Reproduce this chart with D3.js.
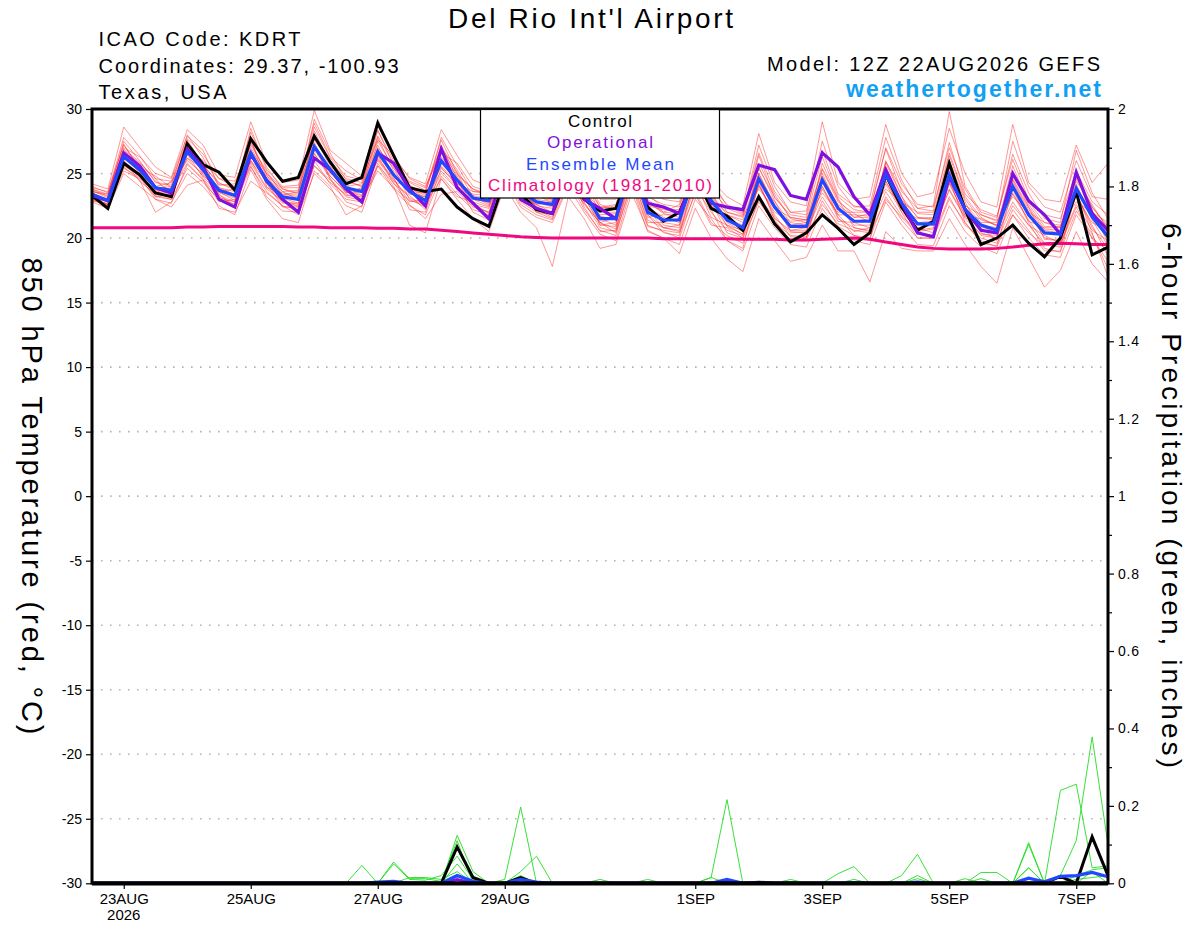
<!DOCTYPE html>
<html>
<head>
<meta charset="utf-8">
<script src="https://cdn.jsdelivr.net/npm/d3@7"></script>
<style>
  body { margin: 0; background: #fff; }
  svg { display: block; font-family: "Liberation Sans", Arial, Helvetica, sans-serif; }
</style>
</head>
<body>
<script>
// ---- data (6-hourly, 12Z 22AUG2026 -> 12Z 07SEP2026) ----
const control = [23.3,22.3,25.8,24.9, 23.5,23.2,27.3,25.7, 25.1,23.7,27.7,25.9, 24.4,24.7,27.9,25.9,
  24.2,24.7,28.9,26.4, 23.9,23.6,23.8,22.4, 21.5,20.9,24.5,23.4, 22.2,21.9,25.0,23.0,
  22.1,22.3,25.5,22.4, 21.3,22.0,24.8,22.3, 21.7,20.6,23.2,21.1, 19.7,20.4,21.8,20.75,
  19.5,20.4,24.9,22.4, 20.6,21.3,25.8,22.2, 19.5,20.0,21.0,19.6, 18.55,20.0,23.6,18.7, 19.3];

const operational = [23.3,22.9,26.6,25.6, 23.9,23.5,26.9,25.5, 23.0,22.4,26.5,24.5, 23.0,22.0,26.2,25.3,
  23.8,22.8,26.6,25.8, 23.8,22.5,26.9,23.9, 22.7,21.5,25.5,23.0, 22.3,21.9,25.5,23.0,
  22.3,21.5,25.5,22.7, 22.4,21.9,25.0,22.7, 22.4,22.2,25.65,25.3, 23.3,23.0,26.6,25.5,
  23.2,21.8,25.3,22.7, 20.4,20.1,24.75,22.2, 20.6,20.4,25.0,22.9, 21.8,20.3,25.1,21.9, 20.6];

const ensMean = [23.4,22.9,26.3,25.3, 23.9,23.7,26.7,25.3, 23.7,23.3,26.6,24.4, 23.2,23.0,27.1,25.3,
  23.9,23.6,26.7,24.9, 23.6,22.9,26.0,24.5, 23.1,22.9,25.8,23.6, 22.8,22.6,25.5,23.5,
  21.5,21.5,25.8,22.0, 21.4,21.4,25.0,22.9, 21.4,20.8,24.6,22.4, 20.9,20.9,24.5,22.3,
  21.3,21.3,24.9,22.7, 21.1,21.1,24.9,22.2, 21.0,20.6,24.0,21.8, 20.4,20.3,23.85,21.65, 20.1];

const climatology = [20.8,20.8,20.8,20.8,20.8,20.8,20.85,20.85,20.9,20.9,
  20.9,20.9,20.9,20.85,20.85,20.8,20.8,20.8,20.75,20.75,
  20.7,20.7,20.6,20.5,20.4,20.3,20.2,20.1,20.05,20.0,
  20.0,20.0,20.0,20.0,20.0,20.0,19.95,19.95,19.95,19.95,
  19.95,19.9,19.9,19.9,19.85,19.85,19.9,19.95,20.0,19.9,
  19.7,19.5,19.3,19.2,19.15,19.15,19.15,19.2,19.3,19.45,
  19.55,19.6,19.55,19.5,19.5];

const members = [
  [23.8,23.2,27.5,26.0, 24.3,24.1,28.0,26.2, 24.2,23.9,28.2,25.5, 23.8,23.5,29.2,26.6, 24.5,24.0,28.3,26.0, 24.1,23.4,27.8,25.6, 23.6,23.5,27.5,24.8, 23.3,23.0,27.0,24.6, 22.4,22.3,27.5,23.4, 22.3,22.0,27.0,24.5, 22.5,21.9,27.2,24.0, 22.0,21.8,27.5,24.0, 22.4,22.5,27.8,24.5, 22.3,22.5,29.8,24.0, 22.0,21.6,26.5,23.5, 21.5,21.2,26.8,23.5, 21.5],
  [23.0,22.6,25.2,24.6, 23.2,23.0,25.4,24.3, 23.0,22.6,25.5,23.6, 22.5,22.2,26.0,24.2, 23.0,22.8,25.6,23.8, 22.5,21.8,24.8,23.4, 22.2,21.8,24.5,22.4, 21.6,21.2,24.0,22.0, 20.3,19.8,24.0,20.5, 20.0,19.5,23.0,21.5, 19.8,19.0,22.5,20.8, 19.5,19.3,22.3,20.6, 19.8,19.5,22.8,21.0, 19.5,19.4,22.5,20.5, 19.3,18.8,21.8,20.0, 18.7,18.5,21.8,20.0, 18.2],
  [23.6,23.4,26.8,25.8, 24.6,23.2,27.2,25.9, 23.3,22.8,27.4,24.9, 22.9,22.6,28.3,25.8, 24.2,23.0,27.5,25.5, 23.0,22.4,26.8,25.1, 22.6,22.3,26.6,24.0, 22.4,21.9,26.2,24.2, 21.0,21.2,26.4,22.6, 21.0,20.8,25.8,23.2, 20.9,20.3,25.5,22.9, 20.5,20.4,25.8,23.0, 20.8,20.6,26.0,23.3, 20.5,20.7,26.0,22.8, 20.4,20.0,25.2,22.4, 19.9,19.8,24.8,22.2, 19.6],
  [23.1,22.5,26.0,24.9, 23.6,23.9,26.2,24.8, 23.9,23.6,26.0,23.9, 23.5,23.3,26.5,24.8, 23.5,23.9,26.0,24.4, 23.9,23.3,25.5,24.0, 23.4,23.3,25.2,23.0, 23.2,22.9,25.0,23.0, 21.8,21.9,25.2,21.6, 21.8,21.8,24.5,22.4, 21.8,21.2,24.0,22.0, 21.3,21.4,24.0,21.8, 21.8,21.7,24.4,22.2, 21.5,21.6,24.3,21.7, 21.5,21.0,23.4,21.3, 20.8,20.8,23.2,21.2, 20.5],
  [23.3,23.0,25.5,24.5, 22.0,22.8,25.0,24.0, 22.5,21.8,25.3,23.0, 21.5,21.2,25.2,24.0, 21.8,22.5,25.8,24.0, 21.0,20.4,24.6,23.0, 21.5,20.5,24.0,22.0, 20.8,17.8,23.2,21.5, 19.2,19.5,23.5,20.6, 20.0,18.8,22.3,20.0, 18.4,17.4,21.5,19.8, 18.2,18.5,21.0,19.0, 19.0,16.6,20.5,19.2, 19.0,19.0,21.5,19.5, 17.8,16.5,20.8,18.5, 16.2,17.5,20.5,18.0, 16.6],
  [24.2,23.8,28.6,27.0, 25.5,24.7,28.4,27.2, 24.9,24.7,29.0,25.8, 24.3,24.5,29.9,26.8, 25.8,24.8,29.2,26.2, 24.7,24.2,28.4,26.4, 24.5,24.0,27.8,25.2, 23.8,23.4,27.5,25.0, 23.0,23.0,27.8,23.8, 23.0,22.8,26.8,24.5, 23.2,22.5,28.1,24.3, 22.8,22.5,29.0,24.3, 23.0,23.2,28.8,25.0, 23.2,23.5,28.5,25.0, 22.8,22.4,28.8,24.3, 23.0,22.8,27.2,24.3, 25.8],
  [22.8,22.3,25.0,24.0, 23.0,22.4,24.1,24.5, 22.3,22.0,24.4,23.5, 22.5,21.8,25.0,23.8, 22.5,22.0,25.6,24.3, 22.6,21.5,23.4,23.6, 22.4,22.0,24.6,23.4, 22.0,21.8,24.5,22.8, 20.8,20.5,24.8,21.4, 20.8,20.5,24.0,22.0, 20.6,20.2,24.2,21.6, 20.4,20.5,23.8,21.8, 20.5,20.8,24.2,22.0, 20.8,20.4,23.8,21.6, 20.8,19.8,22.5,21.0, 19.5,19.3,23.4,20.8, 19.2],
  [23.5,23.0,26.5,25.0, 24.0,24.3,27.0,25.6, 24.3,23.7,27.0,24.8, 23.8,23.4,27.6,25.9, 24.0,23.3,27.0,25.4, 24.0,23.0,26.3,24.8, 23.0,22.8,26.0,23.8, 22.8,22.4,25.6,23.4, 21.4,21.6,25.9,22.4, 21.6,21.2,25.2,23.3, 21.5,21.0,24.6,22.8, 21.2,21.0,24.6,22.6, 21.6,21.9,25.4,22.9, 21.2,21.3,25.2,22.6, 21.2,21.2,24.5,22.2, 20.6,20.4,24.0,21.9, 20.3],
  [23.9,23.6,27.2,25.5, 24.8,23.9,27.4,24.9, 23.6,22.9,26.6,24.2, 22.8,22.5,27.0,24.8, 23.6,23.3,26.4,24.2, 23.3,22.2,25.8,24.4, 22.7,21.9,26.4,23.5, 22.5,22.3,25.8,23.9, 21.5,21.0,26.6,21.8, 20.8,21.0,25.5,22.6, 21.0,20.6,25.0,22.4, 20.6,20.8,25.0,22.4, 21.0,21.0,25.5,22.6, 20.8,21.0,25.6,22.4, 20.9,20.4,24.4,22.0, 20.0,19.8,24.2,21.4, 19.4],
  [22.9,22.7,25.8,25.0, 23.2,23.4,26.2,25.4, 23.8,23.3,26.0,24.6, 23.4,23.2,26.8,25.2, 23.5,23.6,26.4,25.0, 23.6,23.5,25.6,24.2, 23.6,23.5,25.4,23.8, 23.4,23.0,25.0,23.6, 22.3,22.5,25.0,22.5, 22.2,22.2,24.6,23.0, 22.0,21.7,23.8,22.3, 21.6,21.4,23.5,22.0, 22.0,22.0,23.8,22.8, 22.0,22.0,24.3,22.5, 21.8,21.3,23.2,22.0, 21.2,21.0,22.8,22.0, 21.2],
  [23.7,23.1,26.4,25.3, 24.0,23.2,26.9,25.8, 23.2,22.6,26.3,24.6, 23.6,23.0,27.4,25.0, 24.4,24.0,26.9,25.0, 23.4,23.2,26.1,24.3, 23.0,22.5,25.6,23.2, 22.6,22.8,25.4,23.2, 21.0,20.9,25.4,22.2, 20.8,20.6,24.4,22.8, 20.4,20.0,24.1,21.8, 20.1,20.0,24.0,21.5, 20.8,20.5,24.4,22.3, 20.3,20.2,24.2,21.8, 20.2,20.0,23.5,21.4, 19.6,19.7,23.4,21.0, 18.6],
  [23.2,22.8,26.1,25.6, 23.7,23.5,26.5,24.7, 23.5,23.1,27.8,24.0, 22.7,22.7,26.2,25.5, 23.7,23.8,27.8,25.2, 23.8,23.6,27.2,24.6, 23.3,23.0,26.8,24.2, 22.9,22.5,26.0,23.8, 21.7,21.4,26.2,22.0, 21.3,21.5,25.2,23.4, 21.8,21.4,25.0,22.6, 21.0,21.2,24.8,22.5, 21.3,21.5,25.0,23.0, 21.6,21.5,25.4,22.4, 21.0,20.8,24.6,22.4, 20.7,20.6,24.4,22.6, 20.6],
  [23.4,22.4,26.0,24.4, 23.4,24.4,26.0,25.0, 23.6,23.8,25.9,24.4, 23.1,22.7,26.6,24.6, 23.2,22.9,26.2,24.6, 22.8,23.0,25.2,23.9, 23.2,22.6,25.0,22.9, 22.2,22.0,24.8,22.6, 21.2,20.7,25.0,21.2, 21.2,21.0,24.3,21.6, 21.0,20.3,23.3,21.5, 20.6,20.6,23.2,21.3, 21.2,20.8,23.6,21.7, 20.6,20.8,23.7,21.5, 20.3,20.2,22.8,21.0, 20.2,19.6,22.6,20.6, 19.8],
  [24.0,23.5,27.8,26.4, 24.6,24.4,27.6,25.7, 24.1,24.2,27.5,25.0, 23.9,23.9,28.6,26.2, 24.8,24.5,28.4,25.6, 24.3,23.7,27.6,25.0, 23.8,23.4,26.9,24.5, 23.6,23.3,26.7,24.3, 22.4,22.6,27.0,23.2, 22.6,22.4,26.6,24.0, 22.6,22.0,26.6,23.6, 22.0,22.1,26.8,23.4, 22.5,22.2,26.9,23.6, 22.3,22.1,27.4,23.4, 22.2,21.7,26.1,23.0, 21.8,21.5,25.2,22.8, 21.8],
  [23.5,22.9,26.9,25.9, 24.4,23.6,27.7,26.5, 24.6,24.0,27.2,25.2, 23.3,23.6,28.0,26.0, 24.6,24.3,27.9,25.8, 24.4,23.9,27.0,25.3, 23.2,22.7,26.3,24.0, 22.2,21.6,25.2,23.1, 21.2,21.6,26.0,22.8, 21.9,21.6,25.9,23.6, 21.2,20.5,25.8,23.4, 21.5,21.2,25.3,22.8, 21.9,21.2,25.9,23.8, 21.9,21.8,26.6,23.2, 21.6,20.9,25.6,22.6, 20.9,20.9,25.0,22.4, 20.9],
  [22.9,22.6,25.6,24.8, 23.0,22.7,25.7,24.5, 22.8,23.0,25.6,23.2, 22.1,22.0,25.6,24.5, 23.3,23.2,26.1,24.5, 23.1,22.6,25.0,23.8, 22.5,22.0,25.3,22.8, 22.0,21.5,24.6,22.2, 20.6,20.2,24.5,21.0, 20.5,20.0,23.6,21.2, 20.2,19.6,23.0,21.0, 19.9,19.8,22.9,20.9, 20.2,20.0,23.2,21.4, 20.0,20.0,23.0,21.2, 19.8,19.3,22.2,20.6, 19.0,19.0,22.1,20.3, 17.6],
  [23.6,23.3,27.0,26.3, 25.0,24.6,27.9,26.8, 23.9,23.4,28.5,25.3, 24.0,24.1,28.9,26.3, 25.2,24.5,27.6,26.4, 24.6,24.0,26.6,25.8, 24.0,23.6,27.2,25.0, 23.5,22.6,26.5,24.8, 22.6,22.2,27.2,23.0, 22.0,22.6,26.2,24.2, 22.0,21.6,26.4,23.1, 21.8,21.6,26.3,23.2, 22.2,22.0,27.0,24.2, 22.6,22.4,27.0,23.8, 21.8,21.4,27.5,24.0, 22.4,22.0,26.0,23.2, 23.0],
  [23.2,22.6,26.2,25.1, 23.3,23.0,26.6,25.1, 23.4,22.4,26.8,24.3, 22.4,22.4,27.2,24.6, 22.8,22.4,26.5,24.7, 22.2,22.0,25.4,24.2, 22.0,21.4,25.6,23.4, 22.6,22.0,25.3,22.4, 20.5,20.6,25.3,21.8, 20.4,20.2,24.8,22.2, 19.8,19.2,24.4,21.4, 19.8,20.0,24.6,21.6, 20.2,19.8,24.8,22.0, 20.0,20.0,24.6,21.2, 19.6,19.4,23.8,21.2, 19.2,18.9,23.6,20.4, 17.0],
  [23.8,23.4,27.3,25.2, 23.8,24.0,26.8,26.0, 24.6,24.4,26.8,25.0, 23.6,23.7,27.8,25.6, 24.0,24.2,27.2,24.8, 23.6,23.2,26.6,24.9, 23.8,23.2,26.2,24.6, 23.0,22.8,26.4,24.4, 22.0,22.0,26.8,22.8, 22.0,21.9,25.6,23.8, 22.3,21.8,25.4,23.2, 21.6,21.4,25.4,23.0, 21.6,21.6,25.8,23.2, 21.6,21.4,26.4,23.0, 21.4,21.0,24.8,22.8, 21.2,20.8,24.6,22.4, 20.8],
  [23.0,22.9,25.4,24.7, 23.5,23.6,25.8,24.6, 23.1,22.8,25.8,23.8, 22.9,22.4,25.6,24.3, 23.4,23.0,25.2,23.9, 22.9,22.6,24.6,23.2, 22.8,22.4,24.8,22.6, 21.8,21.4,24.2,22.7, 21.2,20.4,24.2,20.9, 20.6,20.4,23.4,21.0, 20.8,20.0,22.8,21.2, 20.2,20.1,22.6,21.1, 20.6,20.4,23.0,21.6, 20.4,20.2,23.2,21.0, 20.0,19.6,21.8,20.4, 19.4,19.5,22.4,20.0, 19.0]
];

// 6-hour precipitation (inches)
const precipControl = [0,0,0,0,0, 0,0,0,0,0, 0,0,0,0,0, 0,0,0,0,0, 0,0,0,0.094,0.015, 0,0,0.015,0,0, 0,0,0,0,0, 0,0,0,0,0, 0,0,0.003,0,0, 0,0,0,0,0, 0,0,0,0,0, 0,0,0,0,0, 0,0.018,0,0.12,0.02];
const precipOperational = [0,0,0,0,0, 0,0,0,0,0, 0,0,0,0,0, 0,0,0,0,0, 0,0,0,0.01,0, 0,0,0,0,0, 0,0,0,0,0, 0,0,0,0,0, 0.005,0,0,0,0, 0,0,0,0,0, 0,0,0,0,0, 0,0,0,0,0, 0,0,0,0,0];
const precipMean = [0,0,0,0,0, 0,0,0,0,0, 0,0,0,0,0, 0,0,0,0.003,0.005, 0,0,0,0.02,0.005, 0,0,0.01,0.003,0, 0,0,0,0,0, 0,0,0,0,0, 0.01,0,0,0,0, 0,0,0,0.002,0, 0,0,0.003,0,0, 0,0,0,0,0.013, 0.004,0.018,0.02,0.028,0.017];
const precipMembers = [
  [0,0,0,0,0, 0,0,0,0,0, 0,0,0,0,0, 0,0,0.046,0,0, 0,0,0,0.124,0.03, 0,0.01,0.197,0,0, 0,0,0,0,0, 0,0,0,0,0, 0,0,0,0,0, 0,0,0,0,0, 0,0,0,0,0, 0,0,0,0,0, 0,0,0,0,0],
  [0,0,0,0,0, 0,0,0,0,0, 0,0,0,0,0, 0,0,0,0,0.055, 0.012,0.012,0.005,0.11,0, 0,0,0.03,0.07,0, 0,0,0,0,0, 0,0,0,0,0, 0,0,0,0,0, 0,0,0,0,0, 0,0,0,0,0, 0,0,0,0,0, 0,0,0,0,0],
  [0,0,0,0,0, 0,0,0,0,0, 0,0,0,0,0, 0,0,0,0,0.05, 0.01,0.008,0.02,0.07,0.01, 0,0,0,0,0, 0,0,0,0,0, 0,0,0,0,0.015, 0.216,0,0,0,0, 0,0,0,0,0, 0,0,0,0,0, 0,0,0,0,0, 0,0,0,0,0],
  [0,0,0,0,0, 0,0,0,0,0, 0,0,0,0,0, 0,0,0,0,0, 0,0,0,0.05,0, 0,0,0.02,0,0, 0,0,0.01,0,0, 0,0,0,0,0, 0,0,0,0,0, 0,0,0.025,0.043,0, 0,0,0.02,0,0, 0,0,0,0,0.04, 0,0,0,0.03,0],
  [0,0,0,0,0, 0,0,0,0,0, 0,0,0,0,0, 0,0,0,0,0, 0,0,0,0,0, 0,0,0,0,0, 0,0,0,0,0, 0,0,0,0,0, 0,0,0,0,0.01, 0,0,0,0,0, 0,0.02,0.075,0,0, 0,0,0,0,0.105, 0,0.24,0.256,0.04,0.045],
  [0,0,0,0,0, 0,0,0,0,0, 0,0,0,0,0, 0,0,0,0,0, 0,0,0,0,0, 0,0,0,0,0, 0,0,0,0,0, 0.01,0,0,0,0, 0,0,0,0,0, 0,0,0,0,0, 0,0,0,0,0, 0,0.028,0.028,0,0.1, 0,0.02,0.11,0.378,0.1],
  [0,0,0,0,0, 0,0,0,0,0, 0,0,0,0,0, 0,0,0,0,0, 0,0,0,0,0, 0,0,0,0,0, 0,0,0,0,0, 0,0,0,0,0.015, 0,0,0,0,0.005, 0,0,0,0.01,0, 0,0,0.012,0,0, 0,0.012,0,0,0.04, 0,0,0.02,0.035,0.04],
  [0,0,0,0,0, 0,0,0,0,0, 0,0,0,0,0, 0,0,0,0,0, 0.015,0.015,0.01,0.03,0, 0,0,0.015,0,0, 0,0,0,0,0, 0,0,0,0,0, 0,0,0,0,0, 0,0,0,0,0, 0,0,0,0,0, 0.012,0,0,0,0, 0,0,0.01,0.015,0.02]
];

const tempTicks = [-30,-25,-20,-15,-10,-5,0,5,10,15,20,25,30];
const precipTicks = [0,0.2,0.4,0.6,0.8,1,1.2,1.4,1.6,1.8,2];
const precipMinorTicks = [0.1,0.3,0.5,0.7,0.9,1.1,1.3,1.5,1.7,1.9];
const dateLabels = ["23AUG","25AUG","27AUG","29AUG","1SEP","3SEP","5SEP","7SEP"];
const labelDates = [[2026,7,23],[2026,7,25],[2026,7,27],[2026,7,29],[2026,8,1],[2026,8,3],[2026,8,5],[2026,8,7]]
  .map(d => new Date(Date.UTC(d[0], d[1], d[2])));

// ---- layout ----
const width = 1200;
const height = 927;
const margin = { top: 109, right: 92, bottom: 44, left: 92 };
const start = Date.UTC(2026, 7, 22, 12);
const times = d3.range(control.length).map(i => new Date(start + i * 6 * 3600 * 1000));

const svg = d3.select("body").append("svg")
  .attr("width", width)
  .attr("height", height);

const x = d3.scaleUtc()
  .domain([times[0], times[times.length - 1]])
  .range([margin.left, width - margin.right]);
const yT = d3.scaleLinear().domain([-30, 30]).range([height - margin.bottom + 0.3, margin.top]);
const yP = d3.scaleLinear().domain([0, 2]).range([height - margin.bottom + 0.3, margin.top]);

// dotted grid
svg.append("g").selectAll("line")
  .data(tempTicks.filter(d => d > -30 && d < 30))
  .join("line")
  .attr("x1", margin.left).attr("x2", width - margin.right)
  .attr("y1", d => yT(d)).attr("y2", d => yT(d))
  .attr("stroke", "#b4b4b4")
  .attr("stroke-width", 1.6)
  .attr("stroke-dasharray", "1.6,7.4");

const lineT = d3.line().x((d, i) => x(times[i])).y(d => yT(d));
const lineP = d3.line().x((d, i) => x(times[i])).y(d => yP(d));

const plot = svg.append("g");

// ensemble members (temperature)
plot.append("g").selectAll("path")
  .data(members)
  .join("path")
  .attr("d", lineT)
  .attr("fill", "none")
  .attr("stroke", "#ff2020")
  .attr("stroke-opacity", 0.55)
  .attr("stroke-width", 0.85);

// ensemble members (precip)
plot.append("g").selectAll("path")
  .data(precipMembers)
  .join("path")
  .attr("d", lineP)
  .attr("fill", "none")
  .attr("stroke", "#22dd22")
  .attr("stroke-width", 0.9);

const mainLines = [
  { data: climatology, line: lineT, color: "#f0087e", w: 3 },
  { data: control, line: lineT, color: "#000000", w: 3 },
  { data: operational, line: lineT, color: "#8010e0", w: 3.2 },
  { data: ensMean, line: lineT, color: "#2248ff", w: 3.2 },
  { data: precipControl, line: lineP, color: "#000000", w: 3 },
  { data: precipOperational, line: lineP, color: "#8010e0", w: 3 },
  { data: precipMean, line: lineP, color: "#2248ff", w: 3.2 }
];
plot.append("g").selectAll("path")
  .data(mainLines)
  .join("path")
  .attr("d", d => d.line(d.data))
  .attr("fill", "none")
  .attr("stroke", d => d.color)
  .attr("stroke-width", d => d.w)
  .attr("stroke-linejoin", "miter");

// axes
const leftAxis = svg.append("g")
  .attr("transform", `translate(${margin.left},0)`)
  .call(d3.axisLeft(yT).tickValues(tempTicks).tickSize(6).tickPadding(4).tickFormat(d => String(d)));
const rightAxis = svg.append("g")
  .attr("transform", `translate(${width - margin.right},0)`)
  .call(d3.axisRight(yP).tickValues(precipTicks).tickSize(6).tickPadding(4).tickFormat(d => String(d)));
const rightMinor = svg.append("g")
  .attr("transform", `translate(${width - margin.right},0)`)
  .call(d3.axisRight(yP).tickValues(precipMinorTicks).tickSize(4).tickFormat(""));
const bottomAxis = svg.append("g")
  .attr("transform", `translate(0,${height - margin.bottom})`)
  .call(d3.axisBottom(x).tickValues(labelDates).tickSize(6).tickPadding(4).tickFormat((d, i) => dateLabels[i]));

[leftAxis, rightAxis, rightMinor, bottomAxis].forEach(g => {
  g.select(".domain").remove();
  g.selectAll(".tick line").attr("stroke", "#000").attr("stroke-width", 1.2);
  g.selectAll(".tick text").attr("fill", "#000").style("font-size", "14px")
    .style("font-family", "'Liberation Sans', Arial, sans-serif");
});
rightAxis.selectAll(".tick text").style("letter-spacing", "0.8px");
bottomAxis.selectAll(".tick text").style("font-size", "15px");
bottomAxis.append("text")
  .attr("x", x(labelDates[0])).attr("y", 37)
  .attr("text-anchor", "middle")
  .attr("fill", "#000")
  .style("font-size", "15px")
  .text("2026");

// frame
const fx0 = margin.left, fx1 = width - margin.right, fy0 = margin.top, fy1 = height - margin.bottom;
svg.append("path")
  .attr("d", `M${fx0},${fy0}H${fx1}V${fy1}H${fx0}Z`)
  .attr("fill", "none")
  .attr("stroke", "#000")
  .attr("stroke-width", 3);
svg.append("line")
  .attr("x1", fx0).attr("x2", fx1).attr("y1", fy1 + 0.5).attr("y2", fy1 + 0.5)
  .attr("stroke", "#000").attr("stroke-width", 4);

// legend
const legend = svg.append("g");
legend.append("rect")
  .attr("x", 480.5).attr("y", 109.5).attr("width", 239).attr("height", 88.5)
  .attr("fill", "#fff").attr("stroke", "#000").attr("stroke-width", 1.2);
const legendItems = [
  { name: "Control", color: "#000000", y: 127, len: 64 },
  { name: "Operational", color: "#8010e0", y: 148, len: 106 },
  { name: "Ensemble Mean", color: "#2248ff", y: 170, len: 148 },
  { name: "Climatology (1981-2010)", color: "#f0087e", y: 191, len: 224 }
];
legend.selectAll("text.leg")
  .data(legendItems)
  .join("text")
  .attr("class", "leg")
  .attr("x", 600).attr("y", d => d.y)
  .attr("text-anchor", "middle")
  .attr("fill", d => d.color)
  .attr("textLength", d => d.len)
  .attr("lengthAdjust", "spacing")
  .style("font-size", "17px")
  .text(d => d.name);

// titles
svg.append("text")
  .attr("x", 590.5).attr("y", 28)
  .attr("text-anchor", "middle")
  .attr("textLength", 285).attr("lengthAdjust", "spacing")
  .style("font-size", "28px")
  .text("Del Rio Int'l Airport");

const infoLeft = [
  { t: "ICAO Code: KDRT", len: 202 },
  { t: "Coordinates: 29.37, -100.93", len: 300 },
  { t: "Texas, USA", len: 128 }
];
svg.selectAll("text.info")
  .data(infoLeft)
  .join("text")
  .attr("class", "info")
  .attr("x", 98.5).attr("y", (d, i) => 46 + i * 26.7)
  .attr("textLength", d => d.len).attr("lengthAdjust", "spacing")
  .style("font-size", "20px")
  .text(d => d.t);

svg.append("text")
  .attr("x", 1100).attr("y", 71)
  .attr("text-anchor", "end")
  .attr("textLength", 333).attr("lengthAdjust", "spacing")
  .style("font-size", "20px")
  .text("Model: 12Z 22AUG2026 GEFS");
svg.append("text")
  .attr("x", 1101).attr("y", 97)
  .attr("text-anchor", "end")
  .attr("fill", "#12a0f2")
  .attr("textLength", 255).attr("lengthAdjust", "spacing")
  .style("font-size", "23px")
  .style("font-weight", "bold")
  .text("weathertogether.net");

// axis titles (both read top to bottom)
svg.append("text")
  .attr("transform", "translate(21.5,496) rotate(90)")
  .attr("text-anchor", "middle")
  .attr("textLength", 477).attr("lengthAdjust", "spacing")
  .style("font-size", "29px")
  .text("850 hPa Temperature (red, °C)");
svg.append("text")
  .attr("transform", "translate(1162,495.5) rotate(90)")
  .attr("text-anchor", "middle")
  .attr("textLength", 545).attr("lengthAdjust", "spacing")
  .style("font-size", "28px")
  .text("6-hour Precipitation (green, inches)");
</script>
</body>
</html>
